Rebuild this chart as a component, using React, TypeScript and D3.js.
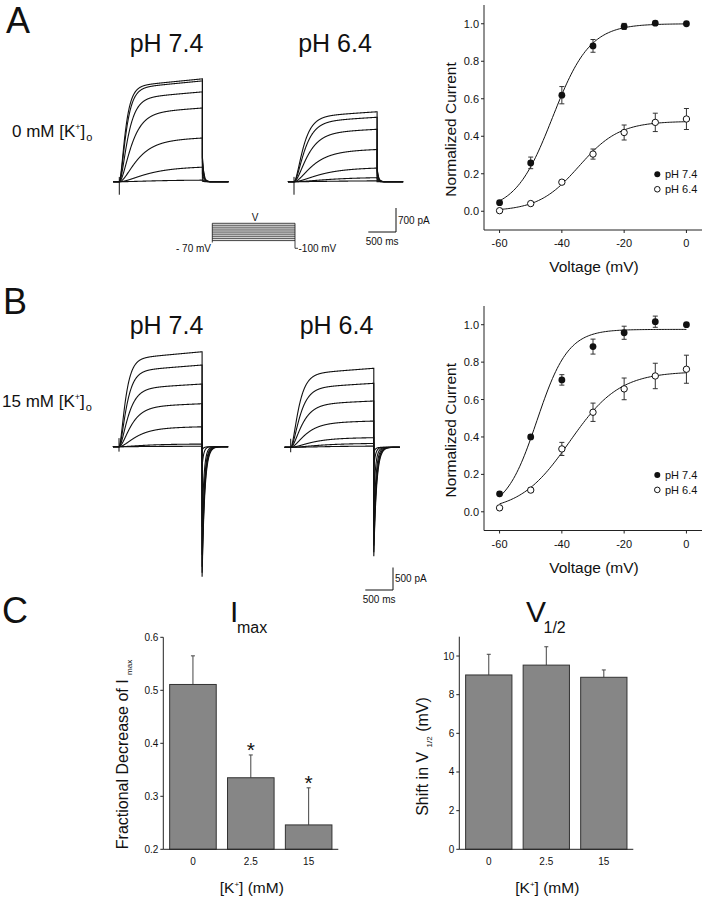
import React from 'react';
import * as d3 from 'd3';

const FONT = "'Liberation Sans', Arial, Helvetica, sans-serif";

// ---------- I-V data (normalized current) ----------
const voltages = [-60, -50, -40, -30, -20, -10, 0];
const ivA74 = [0.046, 0.258, 0.619, 0.882, 0.986, 1.003, 1.0];
const ivA74err = [0.008, 0.031, 0.046, 0.034, 0.016, 0.01, 0.006];
const ivA64 = [0.003, 0.041, 0.155, 0.305, 0.42, 0.474, 0.492];
const ivA64err = [0.01, 0.008, 0.01, 0.027, 0.04, 0.049, 0.056];
const ivB74 = [0.096, 0.40, 0.705, 0.883, 0.957, 1.016, 1.0];
const ivB74err = [0.01, 0.01, 0.028, 0.04, 0.035, 0.03, 0.006];
const ivB64 = [0.021, 0.116, 0.336, 0.532, 0.657, 0.726, 0.762];
const ivB64err = [0.012, 0.012, 0.035, 0.049, 0.058, 0.068, 0.075];
// Boltzmann fit parameters [Imax, V1/2, k]
const fitA74 = [1.0, -43, 6];
const fitA64 = [0.48, -34.5, 6.5];
const fitB74 = [0.975, -48, 5];
const fitB64 = [0.75, -37.5, 8];
const ivYTicks = [0, 0.2, 0.4, 0.6, 0.8, 1.0];
const ivXTicks = [-60, -40, -20, 0];

// ---------- current traces (pA, ms) ----------
const stepDur = 1500;
const ampA74 = [3000, 2940, 2620, 2150, 1280, 440, 50];
const tauA74 = [85, 95, 120, 170, 250, 380, 500];
const tailA74 = [730, 700, 580, 440, 230, 90, 15];
const ampA64 = [2040, 1880, 1530, 945, 410, 128, 29];
const tauA64 = [130, 150, 190, 260, 360, 480, 600];
const tailA64 = [410, 380, 290, 175, 90, 30, 0];
const ampB74 = [2110, 1815, 1393, 955, 444, 60, 10];
const tauB74 = [90, 105, 130, 170, 240, 350, 450];
const tailB74 = [-2890, -2800, -2670, -2400, -1780, -440, -70];
const tailTauB74 = [48, 45, 42, 39, 35, 30, 30];
const ampB64 = [1756, 1422, 1029, 584, 216, 89, 29];
const tauB64 = [110, 130, 160, 210, 290, 400, 500];
const tailB64 = [-2420, -2330, -2180, -1780, -1110, -440, -110];
const tailTauB64 = [50, 47, 44, 40, 36, 32, 30];
const protocolSteps = [-60, -50, -40, -30, -20, -10, 0, 10, 20, 30];

// ---------- bar data ----------
const kConc = ['0', '2.5', '15'];
const imaxVals = [0.511, 0.335, 0.246];
const imaxErr = [0.054, 0.043, 0.070];
const imaxSig = [false, true, true];
const vhalfVals = [9.02, 9.53, 8.9];
const vhalfErr = [1.07, 0.95, 0.38];
const imaxTicks = [0.2, 0.3, 0.4, 0.5, 0.6];
const vhalfTicks = [0, 2, 4, 6, 8, 10];

const boltz = (p: number[], v: number) => p[0] / (1 + Math.exp((p[1] - v) / p[2]));

function tracePoints(amp: number, tau: number, tail: number, tauTail: number) {
  const pts: [number, number][] = [[-110, 0], [0, 0]];
  const creep = 0.08;
  for (let t = 3; t < stepDur; t += 3) {
    pts.push([t, amp * Math.pow(1 - Math.exp(-t / tau), 2) * (1 - creep * (1 - t / stepDur))]);
  }
  pts.push([stepDur, amp]);
  for (let t = 0; t <= 470; t += 2) pts.push([stepDur + t, tail * Math.exp(-t / tauTail)]);
  return pts;
}

function TracePanel({ x0, base, pxPerPA, amps, taus, tails, tailTaus, art }: any) {
  const xs = d3.scaleLinear().domain([0, 500]).range([x0, x0 + 27.7]);
  const ys = d3.scaleLinear().domain([0, 1]).range([base, base - pxPerPA]);
  const line = d3.line<[number, number]>().x(d => xs(d[0])).y(d => ys(d[1]));
  return (
    <g>
      {amps.map((a: number, i: number) => (
        <path key={i} d={line(tracePoints(a, taus[i], tails[i], tailTaus[i])) || ''}
          fill="none" stroke="#111" strokeWidth={1.1} />
      ))}
      <line x1={xs(0)} x2={xs(0)} y1={ys(art[0])} y2={ys(art[1])} stroke="#111" strokeWidth={1} />
    </g>
  );
}

function ScaleBar({ xRight, yBottom, pxV, label }: any) {
  const xs = d3.scaleLinear().domain([0, 500]).range([xRight - 27.7, xRight]);
  return (
    <g fontFamily={FONT} fontSize={10} fill="#111">
      <line x1={xs(0)} x2={xs(500)} y1={yBottom} y2={yBottom} stroke="#111" strokeWidth={1} />
      <line x1={xRight} x2={xRight} y1={yBottom} y2={yBottom - pxV} stroke="#111" strokeWidth={1} />
      <text x={xRight + 2} y={yBottom - pxV / 2 + 3.5}>{label}</text>
      <text x={(xs(0) + xs(500)) / 2} y={yBottom + 12.5} textAnchor="middle">500 ms</text>
    </g>
  );
}

function IVPlot({ top, bottom, s74, e74, s64, e64, f74, f64 }: any) {
  const x = d3.scaleLinear().domain([-65, 5]).range([484, 702]);
  const y = d3.scaleLinear().domain([-0.1, 1.1]).range([bottom, top]);
  const fitLine = (p: number[]) =>
    d3.line<number>().x(v => x(v)).y(v => y(boltz(p, v)))(d3.range(-60, 0.01, 0.5)) || '';
  const errBars = (vals: number[], errs: number[]) =>
    vals.map((v, i) => (
      <g key={i} stroke="#333" strokeWidth={1}>
        <line x1={x(voltages[i])} x2={x(voltages[i])} y1={y(v - errs[i])} y2={y(v + errs[i])} />
        <line x1={x(voltages[i]) - 2.5} x2={x(voltages[i]) + 2.5} y1={y(v - errs[i])} y2={y(v - errs[i])} />
        <line x1={x(voltages[i]) - 2.5} x2={x(voltages[i]) + 2.5} y1={y(v + errs[i])} y2={y(v + errs[i])} />
      </g>
    ));
  return (
    <g fontFamily={FONT} fill="#111">
      <line x1={484} x2={484} y1={top} y2={bottom} stroke="#222" />
      <line x1={484} x2={702} y1={bottom} y2={bottom} stroke="#222" />
      {ivYTicks.map(t => (
        <g key={t}>
          <line x1={481} x2={484} y1={y(t)} y2={y(t)} stroke="#222" />
          <text x={479} y={y(t) + 4} fontSize={11} textAnchor="end">{t.toFixed(1)}</text>
        </g>
      ))}
      {ivXTicks.map(t => (
        <g key={t}>
          <line x1={x(t)} x2={x(t)} y1={bottom} y2={bottom + 3} stroke="#222" />
          <text x={x(t)} y={bottom + 17} fontSize={11} textAnchor="middle">{t}</text>
        </g>
      ))}
      <text x={594} y={bottom + 42} fontSize={15.5} textAnchor="middle">Voltage (mV)</text>
      <text transform={`translate(456,${(top + bottom) / 2 + 12}) rotate(-90)`} fontSize={15.5} textAnchor="middle">Normalized Current</text>
      <path d={fitLine(f74)} fill="none" stroke="#111" strokeWidth={1} />
      <path d={fitLine(f64)} fill="none" stroke="#111" strokeWidth={1} />
      {errBars(s74, e74)}
      {errBars(s64, e64)}
      {s74.map((v: number, i: number) => (
        <circle key={'f' + i} cx={x(voltages[i])} cy={y(v)} r={3.4} fill="#111" />
      ))}
      {s64.map((v: number, i: number) => (
        <circle key={'o' + i} cx={x(voltages[i])} cy={y(v)} r={3.2} fill="#fff" stroke="#111" strokeWidth={1} />
      ))}
      <circle cx={657.3} cy={y(0.2) + 0.5} r={3} fill="#111" />
      <text x={665} y={y(0.2) + 4.5} fontSize={11}>pH 7.4</text>
      <circle cx={657.3} cy={y(0.2) + 15.5} r={2.8} fill="#fff" stroke="#111" />
      <text x={665} y={y(0.2) + 19.5} fontSize={11}>pH 6.4</text>
    </g>
  );
}

function BarPlot({ x0, x1, top, bottom, domain, ticks, fmt, vals, errs, sig }: any) {
  const x = d3.scaleBand().domain(kConc).range([x0, x1]).paddingInner(0.195).paddingOuter(0.11);
  const y = d3.scaleLinear().domain(domain).range([bottom, top]);
  return (
    <g fontFamily={FONT} fill="#111">
      {vals.map((v: number, i: number) => {
        const cx = (x(kConc[i]) as number) + x.bandwidth() / 2;
        return (
          <g key={i}>
            <line x1={cx} x2={cx} y1={y(v)} y2={y(v + errs[i])} stroke="#444" strokeWidth={1} />
            <line x1={cx - 2} x2={cx + 2} y1={y(v + errs[i])} y2={y(v + errs[i])} stroke="#444" strokeWidth={1} />
            <rect x={x(kConc[i])} y={y(v)} width={x.bandwidth()} height={bottom - y(v)}
              fill="#868686" stroke="#333" strokeWidth={1} />
            {sig && sig[i] && (
              <text x={cx} y={y(v + errs[i]) + 2} fontSize={21} textAnchor="middle">*</text>
            )}
            <text x={cx} y={bottom + 16} fontSize={10} textAnchor="middle">{kConc[i]}</text>
          </g>
        );
      })}
      <line x1={x0} x2={x0} y1={top} y2={bottom} stroke="#222" />
      <line x1={x0} x2={x1} y1={bottom} y2={bottom} stroke="#222" />
      {ticks.map((t: number) => (
        <g key={t}>
          <line x1={x0 - 3} x2={x0} y1={y(t)} y2={y(t)} stroke="#222" />
          <text x={x0 - 5} y={y(t) + 3.5} fontSize={10} textAnchor="end">{fmt(t)}</text>
        </g>
      ))}
      <text x={(x0 + x1) / 2 + 1} y={bottom + 44} fontSize={15.5} textAnchor="middle">
        [K<tspan fontSize={8} dy={-6}>+</tspan><tspan dy={6}>] (mM)</tspan>
      </text>
    </g>
  );
}

export default function App() {
  const pA = 24 / 700;
  const pB = 22.5 / 500;
  const pv = d3.scaleLinear().domain([-100, 30]).range([248.3, 223.3]);
  return (
    <svg width={702} height={900} style={{ position: 'absolute', left: 0, top: 0, background: '#fff' }}
      fontFamily={FONT}>
      <rect width={702} height={900} fill="#fff" />
      {/* panel letters */}
      <text x={6} y={33} fontSize={36} fill="#111">A</text>
      <text x={3} y={314} fontSize={36} fill="#111">B</text>
      <text x={2} y={623} fontSize={36} fill="#111">C</text>
      {/* titles */}
      <text x={166.5} y={52} fontSize={25} textAnchor="middle" fill="#111">pH 7.4</text>
      <text x={335} y={52} fontSize={25} textAnchor="middle" fill="#111">pH 6.4</text>
      <text x={166.5} y={334} fontSize={25} textAnchor="middle" fill="#111">pH 7.4</text>
      <text x={336.5} y={334} fontSize={25} textAnchor="middle" fill="#111">pH 6.4</text>
      {/* row labels */}
      <text x={12} y={137} fontSize={17} fill="#111">0 mM [K<tspan fontSize={9} dy={-7}>+</tspan><tspan dy={7}>]</tspan><tspan fontSize={11} dy={4} dx={1}>o</tspan></text>
      <text x={2} y={407} fontSize={17} fill="#111">15 mM [K<tspan fontSize={9} dy={-7}>+</tspan><tspan dy={7}>]</tspan><tspan fontSize={11} dy={4} dx={1}>o</tspan></text>

      {/* traces */}
      <TracePanel x0={119.3} base={181.7} pxPerPA={pA} amps={ampA74} taus={tauA74} tails={tailA74}
        tailTaus={[25, 25, 25, 25, 25, 25, 25]} art={[140, -380]} />
      <TracePanel x0={294} base={181.7} pxPerPA={pA} amps={ampA64} taus={tauA64} tails={tailA64}
        tailTaus={[25, 25, 25, 25, 25, 25, 25]} art={[140, -380]} />
      <TracePanel x0={119} base={446.7} pxPerPA={pB} amps={ampB74} taus={tauB74} tails={tailB74}
        tailTaus={tailTauB74} art={[190, -110]} />
      <TracePanel x0={290.7} base={447.3} pxPerPA={pB} amps={ampB64} taus={tauB64} tails={tailB64}
        tailTaus={tailTauB64} art={[190, -110]} />
      <ScaleBar xRight={396} yBottom={232} pxV={700 * pA} label="700 pA" />
      <ScaleBar xRight={393} yBottom={590} pxV={500 * pB} label="500 pA" />

      {/* voltage protocol */}
      <g stroke="#111" strokeWidth={0.8} fill="none">
        {protocolSteps.map(v => (
          <line key={v} x1={212.3} x2={295} y1={pv(v)} y2={pv(v)} />
        ))}
        <line x1={212.3} x2={212.3} y1={pv(30)} y2={pv(-70)} />
        <line x1={295} x2={295} y1={pv(30)} y2={pv(-100)} />
        <line x1={295} x2={298} y1={pv(-100)} y2={pv(-100)} />
      </g>
      <text x={255} y={220.5} fontSize={10} textAnchor="middle" fill="#111">V</text>
      <text x={211} y={252} fontSize={10} textAnchor="end" fill="#111">- 70 mV</text>
      <text x={298.5} y={252} fontSize={10} fill="#111">-100 mV</text>

      {/* I-V plots */}
      <IVPlot top={5} bottom={230} s74={ivA74} e74={ivA74err} s64={ivA64} e64={ivA64err} f74={fitA74} f64={fitA64} />
      <IVPlot top={306} bottom={530.5} s74={ivB74} e74={ivB74err} s64={ivB64} e64={ivB64err} f74={fitB74} f64={fitB64} />

      {/* panel C */}
      <text x={230} y={621.7} fontSize={30} fill="#111">I</text>
      <text x={237} y={633} fontSize={16} fill="#111">max</text>
      <text x={526} y={621.7} fontSize={30} fill="#111">V</text>
      <text x={543.5} y={633} fontSize={16} fill="#111">1/2</text>
      <BarPlot x0={163.3} x1={338.3} top={637.3} bottom={849.3} domain={[0.2, 0.6]} ticks={imaxTicks}
        fmt={(t: number) => t.toFixed(1)} vals={imaxVals} errs={imaxErr} sig={imaxSig} />
      <BarPlot x0={459.3} x1={633.3} top={636.7} bottom={849.3} domain={[0, 11]} ticks={vhalfTicks}
        fmt={(t: number) => String(t)} vals={vhalfVals} errs={vhalfErr} sig={null} />
      <text transform="translate(127.5,754.5) rotate(-90)" fontSize={16} textAnchor="middle" fill="#111">
        Fractional Decrease of I <tspan fontSize={8} dy={4}>max</tspan>
      </text>
      <text transform="translate(427.5,756.5) rotate(-90)" fontSize={16} textAnchor="middle" fill="#111">
        Shift in V <tspan fontSize={8} dy={4}>1/2</tspan><tspan dy={-4}> (mV)</tspan>
      </text>
    </svg>
  );
}
